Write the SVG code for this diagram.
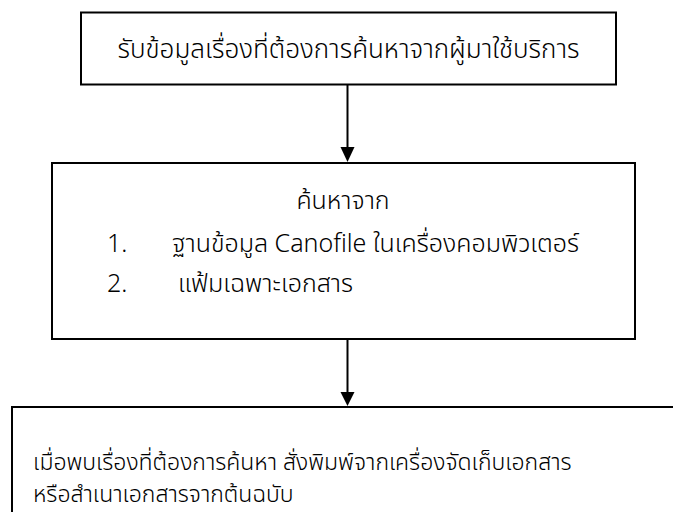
<svg xmlns="http://www.w3.org/2000/svg" width="673" height="512" viewBox="0 0 673 512">
<style>
.box{fill:#fff;stroke:#000;stroke-width:2}
.t{font-family:"Noto Sans Thai","Noto Sans","DejaVu Sans",sans-serif;font-size:25px;font-weight:300;fill:#000}
.big{font-size:26px}
.sm{font-size:23px}
.c{stroke:#000;stroke-width:2;fill:none}
</style>
<g id="n1">
<rect class="box" x="81" y="12.5" width="535" height="72"/>
<text class="t big" x="348.5" y="58" text-anchor="middle">รับข้อมูลเรื่องที่ต้องการค้นหาจากผู้มาใช้บริการ</text>
</g>
<g id="n2">
<rect class="box" x="52" y="163" width="583" height="176"/>
<text class="t" x="343" y="209" text-anchor="middle">ค้นหาจาก</text>
<text class="t" x="107" y="252">1.</text>
<text class="t" x="172" y="252">ฐานข้อมูล Canofile ในเครื่องคอมพิวเตอร์</text>
<text class="t" x="107" y="292">2.</text>
<text class="t" x="178" y="292">แฟ้มเฉพาะเอกสาร</text>
</g>
<g id="n3">
<rect class="box" x="12" y="407" width="680" height="120"/>
<text class="t sm" x="33" y="470">เมื่อพบเรื่องที่ต้องการค้นหา สั่งพิมพ์จากเครื่องจัดเก็บเอกสาร</text>
<text class="t sm" x="33" y="502">หรือสำเนาเอกสารจากต้นฉบับ</text>
</g>
<g id="connectors">
<line class="c" x1="347.5" y1="85" x2="347.5" y2="150"/>
<path d="M340.5,147 L354.5,147 L347.5,162 Z" fill="#000"/>
<line class="c" x1="347.5" y1="338" x2="347.5" y2="395"/>
<path d="M340.5,392 L354.5,392 L347.5,406 Z" fill="#000"/>
</g>
</svg>
